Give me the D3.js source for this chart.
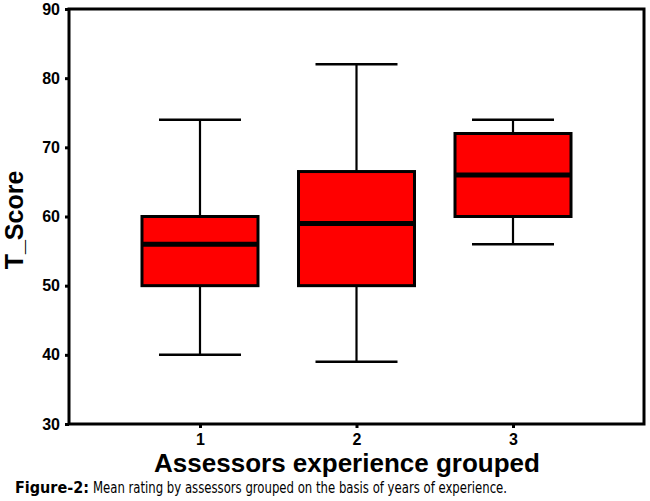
<!DOCTYPE html>
<html>
<head>
<meta charset="utf-8">
<script src="https://cdn.jsdelivr.net/npm/d3@7"></script>
<style>
  body { margin: 0; background: #fff; }
  svg { display: block; }
  .axis text { font-family: "Liberation Sans", Arial, sans-serif; font-weight: bold; font-size: 16px; fill: #000; }
  .axis line { stroke: #000; stroke-width: 3px; }
  .axis .domain { display: none; }
</style>
</head>
<body>
<div id="chart"></div>
<script>
"use strict";

// box plot summaries
const groups = ['1', '2', '3'];
const whiskerLow = [40, 39, 56];
const q1 = [50, 50, 60];
const medians = [56, 59, 66];
const q3 = [60, 66.5, 72];
const whiskerHigh = [74, 82, 74];
const yTicks = [30, 40, 50, 60, 70, 80, 90];

const width = 650;
const height = 501;
const margin = { top: 9, right: 6, bottom: 77, left: 69 };

const boxes = groups.map((g, i) => ({
  group: g,
  lo: whiskerLow[i],
  q1: q1[i],
  med: medians[i],
  q3: q3[i],
  hi: whiskerHigh[i]
}));

let svg = d3.select('#chart')
  .append('svg')
  .attr('width', width)
  .attr('height', height);

let x = d3.scalePoint()
  .domain(groups)
  .range([margin.left, width - margin.right])
  .padding(0.837);

let y = d3.scaleLinear()
  .domain([30, 90])
  .range([height - margin.bottom, margin.top]);

let boxW = 116;
let capW = 82;

// axes (tick marks + labels only, the frame draws the lines)
svg.append('g')
  .attr('class', 'axis')
  .attr('transform', 'translate(' + margin.left + ',0)')
  .call(d3.axisLeft(y).tickValues(yTicks).tickSize(4).tickSizeOuter(0).tickPadding(5));

svg.append('g')
  .attr('class', 'axis')
  .attr('transform', 'translate(0,' + (height - margin.bottom) + ')')
  .call(d3.axisBottom(x).tickSize(4).tickSizeOuter(0).tickPadding(6));

let g = svg.selectAll('.box')
  .data(boxes)
  .enter()
  .append('g')
  .attr('class', 'box');

// whisker stems
g.append('line')
  .attr('x1', d => x(d.group))
  .attr('x2', d => x(d.group))
  .attr('y1', d => y(d.hi))
  .attr('y2', d => y(d.q3))
  .attr('stroke', '#000')
  .attr('stroke-width', 2.2);

g.append('line')
  .attr('x1', d => x(d.group))
  .attr('x2', d => x(d.group))
  .attr('y1', d => y(d.q1))
  .attr('y2', d => y(d.lo))
  .attr('stroke', '#000')
  .attr('stroke-width', 2.2);

// whisker caps
['hi', 'lo'].forEach(k => {
  g.append('line')
    .attr('x1', d => x(d.group) - capW / 2)
    .attr('x2', d => x(d.group) + capW / 2)
    .attr('y1', d => y(d[k]))
    .attr('y2', d => y(d[k]))
    .attr('stroke', '#000')
    .attr('stroke-width', 2.5);
});

g.append('rect')
  .attr('x', d => x(d.group) - boxW / 2)
  .attr('width', boxW)
  .attr('y', d => y(d.q3))
  .attr('height', d => y(d.q1) - y(d.q3))
  .attr('fill', '#ff0000')
  .attr('stroke', '#000')
  .attr('stroke-width', 3);

g.append('line')
  .attr('x1', d => x(d.group) - boxW / 2)
  .attr('x2', d => x(d.group) + boxW / 2)
  .attr('y1', d => y(d.med))
  .attr('y2', d => y(d.med))
  .attr('stroke', '#000')
  .attr('stroke-width', 5);

// plot frame
svg.append('rect')
  .attr('x', margin.left)
  .attr('y', margin.top)
  .attr('width', width - margin.left - margin.right)
  .attr('height', height - margin.top - margin.bottom)
  .attr('fill', 'none')
  .attr('stroke', '#000')
  .attr('stroke-width', 3);

// axis titles
svg.append('text')
  .attr('transform', 'translate(23,220) rotate(-90)')
  .attr('text-anchor', 'middle')
  .style('font-family', '"Liberation Sans", Arial, sans-serif')
  .style('font-weight', 'bold')
  .style('font-size', '25px')
  .text('T_Score');

svg.append('text')
  .attr('x', 347)
  .attr('y', 472)
  .attr('text-anchor', 'middle')
  .style('font-family', '"Liberation Sans", Arial, sans-serif')
  .style('font-weight', 'bold')
  .style('font-size', '26px')
  .text('Assessors experience grouped');

// figure caption: bold label, then the sentence fitted to end near x=507
const capFont = '"Liberation Sans Narrow", "DejaVu Sans Condensed", sans-serif';

let capLabel = svg.append('text')
  .attr('x', 15)
  .attr('y', 493)
  .style('font-family', capFont)
  .style('font-weight', 'bold')
  .style('font-size', '16px')
  .text('Figure-2:');

let labelEnd = 15 + capLabel.node().getComputedTextLength() + 4;

svg.append('text')
  .attr('x', labelEnd)
  .attr('y', 493)
  .attr('textLength', 507 - labelEnd)
  .attr('lengthAdjust', 'spacingAndGlyphs')
  .style('font-family', capFont)
  .style('font-size', '16px')
  .text('Mean rating by assessors grouped on the basis of years of experience.');
</script>
</body>
</html>
